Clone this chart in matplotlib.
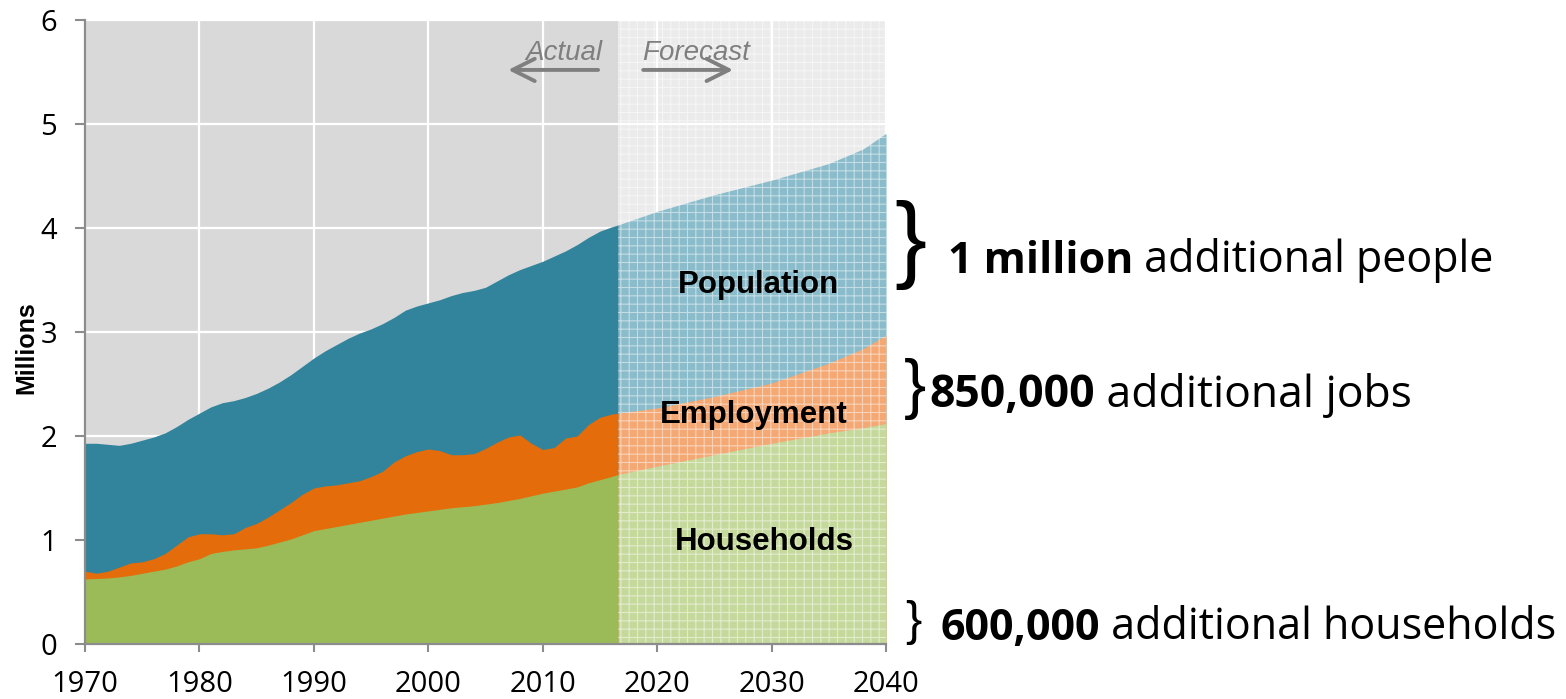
import matplotlib
matplotlib.use("Agg")
import matplotlib.pyplot as plt
from matplotlib.patches import Rectangle

# ---------------- data (millions) ----------------
actual_years = list(range(1970, 2017)) + [2016.6]
population_actual = [1.93, 1.93, 1.92, 1.91, 1.93, 1.96, 1.99, 2.03, 2.09, 2.16,
                     2.22, 2.28, 2.32, 2.34, 2.37, 2.41, 2.46, 2.52, 2.59, 2.67,
                     2.75, 2.82, 2.88, 2.94, 2.99, 3.03, 3.08, 3.14, 3.21, 3.25,
                     3.28, 3.31, 3.35, 3.38, 3.40, 3.43, 3.49, 3.55, 3.60, 3.64,
                     3.68, 3.73, 3.78, 3.84, 3.91, 3.97, 4.01, 4.03]
employment_actual = [0.70, 0.68, 0.70, 0.74, 0.78, 0.79, 0.82, 0.87, 0.95, 1.03,
                     1.06, 1.06, 1.05, 1.06, 1.12, 1.16, 1.22, 1.29, 1.36, 1.44,
                     1.50, 1.52, 1.53, 1.55, 1.57, 1.61, 1.66, 1.75, 1.81, 1.85,
                     1.875, 1.86, 1.82, 1.82, 1.83, 1.88, 1.94, 1.99, 2.01, 1.93,
                     1.87, 1.89, 1.98, 2.00, 2.11, 2.18, 2.21, 2.22]
households_actual = [0.625, 0.63, 0.635, 0.645, 0.66, 0.68, 0.70, 0.72, 0.75, 0.79,
                     0.82, 0.87, 0.89, 0.905, 0.915, 0.925, 0.95, 0.98, 1.01, 1.05,
                     1.09, 1.11, 1.13, 1.15, 1.17, 1.19, 1.21, 1.23, 1.25, 1.265,
                     1.28, 1.295, 1.31, 1.32, 1.33, 1.345, 1.36, 1.38, 1.40, 1.425,
                     1.45, 1.47, 1.49, 1.51, 1.55, 1.58, 1.61, 1.63]

forecast_years = [2016.6, 2020, 2025, 2030, 2035, 2038, 2040]
population_forecast = [4.03, 4.16, 4.32, 4.46, 4.62, 4.76, 4.91]
employment_forecast = [2.22, 2.27, 2.38, 2.51, 2.70, 2.84, 2.97]
households_forecast = [1.63, 1.71, 1.82, 1.93, 2.03, 2.08, 2.12]

split_year = 2016.6
series_labels = ["Population", "Employment", "Households"]
label_pos = [(2028.9, 3.375), (2028.4, 2.125), (2029.35, 0.904)]
x_ticks = [1970, 1980, 1990, 2000, 2010, 2020, 2030, 2040]
y_ticks = [0, 1, 2, 3, 4, 5, 6]

# ---------------- style ----------------
TEAL, ORANGE, GREEN = "#31849b", "#e46c0a", "#9bbb59"
TEAL_L, ORANGE_L, GREEN_L = "#8abccb", "#f4a874", "#c5d99c"
GRAY_TXT = "#7f7f7f"
SPINE = "#8c8c8c"

plt.rcParams["hatch.color"] = "white"
plt.rcParams["hatch.linewidth"] = 0.8

W, H = 1566, 699
fig = plt.figure(figsize=(W / 100, H / 100), dpi=100)
ax = fig.add_axes([85 / W, 1 - 644 / H, (886 - 85) / W, (644 - 20) / H])
ax.set_xlim(1970, 2040)
ax.set_ylim(0, 6)
ax.set_facecolor("#d9d9d9")
ax.set_axisbelow(True)
ax.grid(True, color="white", lw=1.6)

# forecast background
ax.axvspan(split_year, 2040, color="#ebebeb", lw=0, zorder=0.2)

# actual areas (overlapping, not stacked)
ax.fill_between(actual_years, 0, population_actual, color=TEAL, lw=0, zorder=1)
ax.fill_between(actual_years, 0, employment_actual, color=ORANGE, lw=0, zorder=1.1)
ax.fill_between(actual_years, 0, households_actual, color=GREEN, lw=0, zorder=1.2)

# forecast areas
ax.fill_between(forecast_years, 0, population_forecast, color=TEAL_L, lw=0, zorder=1)
ax.fill_between(forecast_years, 0, employment_forecast, color=ORANGE_L, lw=0, zorder=1.1)
ax.fill_between(forecast_years, 0, households_forecast, color=GREEN_L, lw=0, zorder=1.2)

# fine grid pattern over forecast region
ax.add_patch(Rectangle((split_year, 0), 2040 - split_year, 6, facecolor="none",
                       edgecolor=(1, 1, 1, 0.5), hatch="++", lw=0, zorder=1.5))

# spines and ticks
for s in ("top", "right"):
    ax.spines[s].set_visible(False)
for s in ("left", "bottom"):
    ax.spines[s].set_color(SPINE)
    ax.spines[s].set_linewidth(1.6)
    ax.spines[s].set_zorder(3)
ax.set_xticks(x_ticks)
ax.set_yticks(y_ticks)
ax.tick_params(axis="y", length=7, width=1.5, color=SPINE, pad=13, labelsize=21)
ax.tick_params(axis="x", length=6, width=1.5, color=SPINE, pad=13, labelsize=21)
for lab in ax.get_xticklabels() + ax.get_yticklabels():
    lab.set_fontfamily("Open Sans")

fig.text(26 / W, 1 - 348 / H, "Millions", rotation=90, ha="center", va="center",
         fontsize=18, fontweight="bold", family="Liberation Sans")

# series labels
for name, (lx, ly) in zip(series_labels, label_pos):
    ax.text(lx, ly, name, ha="center", va="baseline", fontsize=22.5,
            fontweight="bold", family="Liberation Sans", zorder=4)

# Actual / Forecast
ax.text(2015.19, 5.615, "Actual", ha="right", va="baseline", fontsize=20,
        style="italic", color=GRAY_TXT, family="Liberation Sans", zorder=4)
ax.text(2018.69, 5.615, "Forecast", ha="left", va="baseline", fontsize=20,
        style="italic", color=GRAY_TXT, family="Liberation Sans", zorder=4)
arrow_kw = dict(arrowstyle="->,head_length=0.8,head_width=0.4", color=GRAY_TXT,
                lw=2.8, shrinkA=0, shrinkB=0, mutation_scale=20)
ax.annotate("", xy=(2006.98, 5.52), xytext=(2014.84, 5.52), arrowprops=arrow_kw, zorder=4)
ax.annotate("", xy=(2026.64, 5.52), xytext=(2018.78, 5.52), arrowprops=arrow_kw, zorder=4)

# right-hand annotations
def fx(px):
    return px / W

def fy(py):
    return 1 - py / H

braces = [(894, 270, 69), (904, 406, 48), (905, 635, 35)]
for bx, by, bs in braces:
    fig.text(fx(bx), fy(by), "}", ha="left", va="baseline", fontsize=bs,
             family="Liberation Sans")

notes = [(948, 273, "1 million", " additional people", 31),
         (929, 407, "850,000", " additional jobs", 32),
         (940, 640, "600,000", " additional households", 31)]
for nx, ny, bold, rest, fs in notes:
    t = fig.text(fx(nx), fy(ny), bold, ha="left", va="baseline", fontsize=fs,
                 fontweight="bold", family="Open Sans")
    ax.annotate(rest, xy=(1, 0), xycoords=t, ha="left", va="bottom",
                fontsize=fs, family="Open Sans", annotation_clip=False)

fig.savefig("out.png", dpi=100)
